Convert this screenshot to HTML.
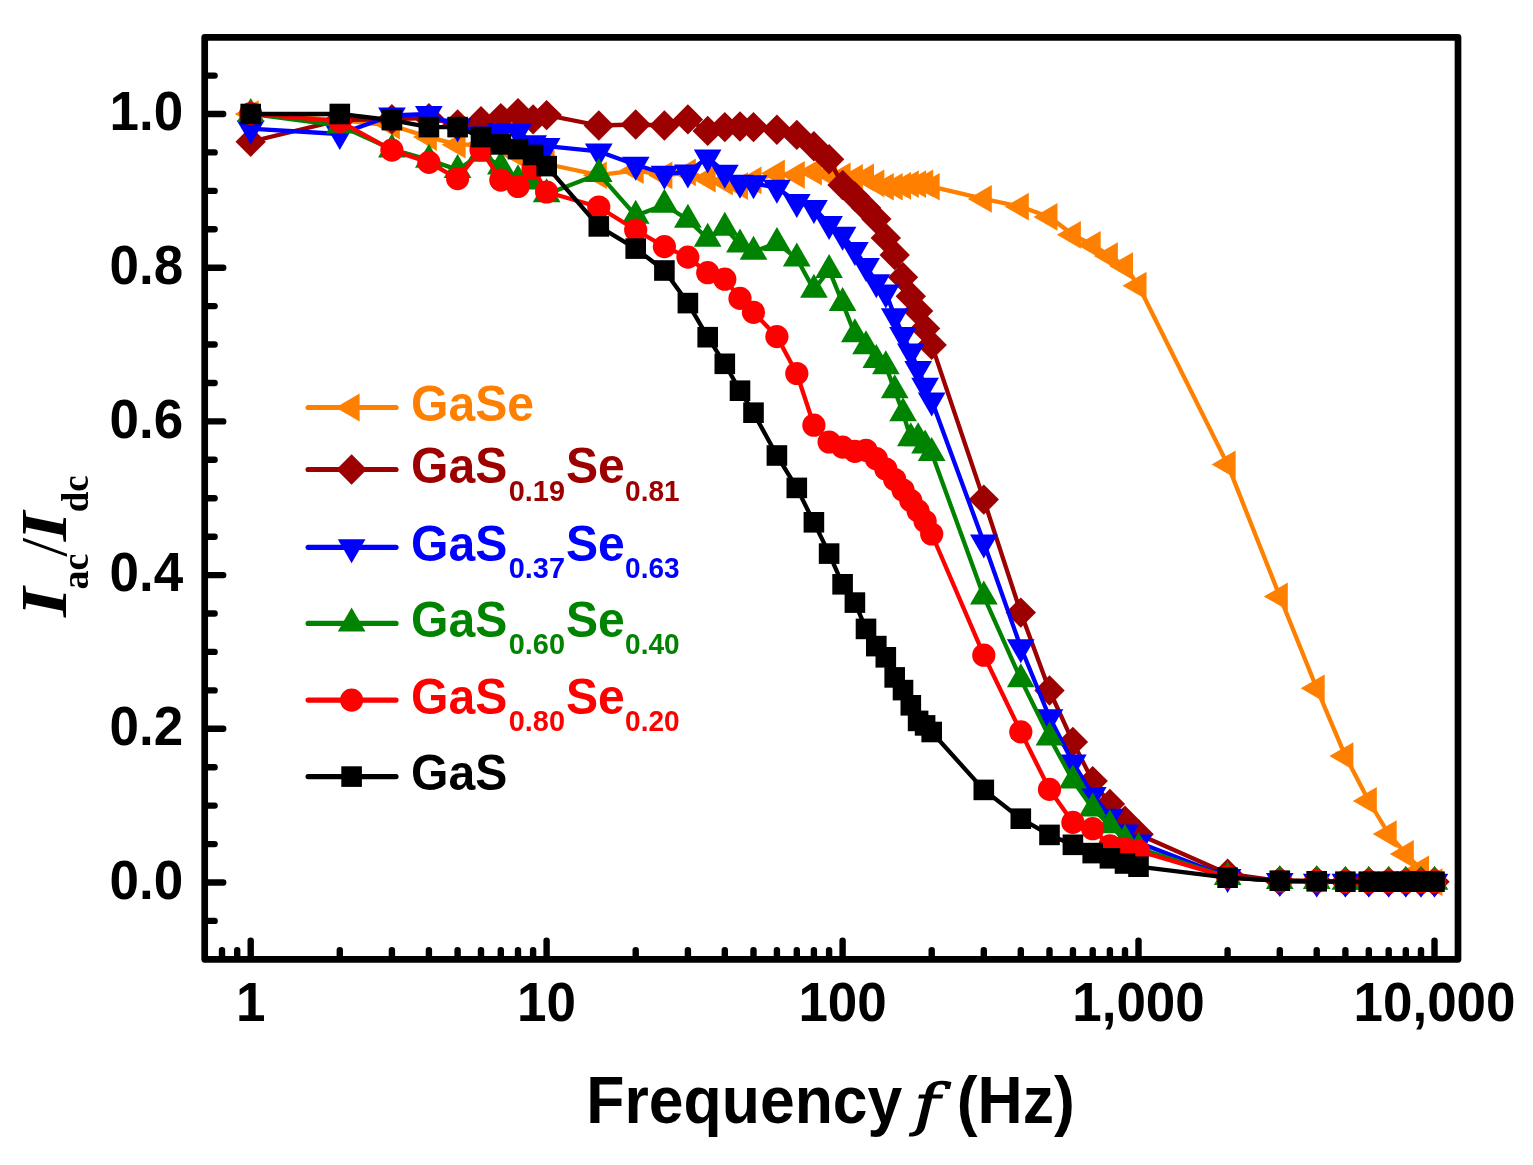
<!DOCTYPE html>
<html><head><meta charset="utf-8"><title>Frequency response</title>
<style>html,body{margin:0;padding:0;background:#fff}svg{display:block}text{font-family:"Liberation Sans",sans-serif;font-weight:bold}</style></head><body>
<svg width="1533" height="1165" viewBox="0 0 1533 1165">
<rect width="1533" height="1165" fill="#fff"/>
<g fill="#FF8000" stroke="none"><polyline points="250.7,114.0 339.8,120.1 391.9,125.5 428.9,137.1 457.6,144.7 481.0,144.7 500.8,145.1 518.0,154.7 533.1,160.1 546.6,164.0 598.8,175.2 635.7,170.3 664.4,175.5 687.9,172.4 707.7,178.8 724.8,181.6 740.0,186.0 753.5,180.5 776.9,173.3 796.8,174.9 813.9,171.8 829.1,173.9 842.6,176.3 854.9,177.8 866.0,177.4 876.3,183.3 885.8,186.7 894.7,186.7 903.0,185.9 910.8,184.2 918.1,184.2 925.1,183.3 931.7,186.7 983.8,198.9 1020.8,206.7 1049.5,217.0 1072.9,234.8 1092.7,244.8 1109.9,256.0 1125.0,266.0 1138.5,285.7 1227.6,464.4 1279.8,596.5 1316.7,688.3 1345.4,756.1 1368.8,801.0 1388.7,834.0 1405.8,854.0 1421.0,869.4 1434.5,882.1" fill="none" stroke="#FF8000" stroke-width="4.3" stroke-linejoin="round"/>
<polygon points="234.7,114.0 258.7,100.2 258.7,127.8"/>
<polygon points="323.8,120.1 347.8,106.3 347.8,134.0"/>
<polygon points="375.9,125.5 399.9,111.7 399.9,139.4"/>
<polygon points="412.9,137.1 436.9,123.2 436.9,150.9"/>
<polygon points="441.6,144.7 465.6,130.9 465.6,158.6"/>
<polygon points="465.0,144.7 489.0,130.9 489.0,158.6"/>
<polygon points="484.8,145.1 508.8,131.3 508.8,159.0"/>
<polygon points="502.0,154.7 526.0,140.9 526.0,168.6"/>
<polygon points="517.1,160.1 541.1,146.3 541.1,174.0"/>
<polygon points="530.6,164.0 554.6,150.1 554.6,177.8"/>
<polygon points="582.8,175.2 606.8,161.4 606.8,189.1"/>
<polygon points="619.7,170.3 643.7,156.4 643.7,184.1"/>
<polygon points="648.4,175.5 672.4,161.6 672.4,189.3"/>
<polygon points="671.9,172.4 695.9,158.6 695.9,186.3"/>
<polygon points="691.7,178.8 715.7,164.9 715.7,192.6"/>
<polygon points="708.8,181.6 732.8,167.8 732.8,195.5"/>
<polygon points="724.0,186.0 748.0,172.2 748.0,199.9"/>
<polygon points="737.5,180.5 761.5,166.6 761.5,194.3"/>
<polygon points="760.9,173.3 784.9,159.4 784.9,187.1"/>
<polygon points="780.8,174.9 804.8,161.1 804.8,188.8"/>
<polygon points="797.9,171.8 821.9,157.9 821.9,185.6"/>
<polygon points="813.1,173.9 837.1,160.1 837.1,187.8"/>
<polygon points="826.6,176.3 850.6,162.5 850.6,190.2"/>
<polygon points="838.9,177.8 862.9,163.9 862.9,191.6"/>
<polygon points="850.0,177.4 874.0,163.6 874.0,191.3"/>
<polygon points="860.3,183.3 884.3,169.5 884.3,197.2"/>
<polygon points="869.8,186.7 893.8,172.9 893.8,200.6"/>
<polygon points="878.7,186.7 902.7,172.9 902.7,200.6"/>
<polygon points="887.0,185.9 911.0,172.0 911.0,199.7"/>
<polygon points="894.8,184.2 918.8,170.3 918.8,198.0"/>
<polygon points="902.1,184.2 926.1,170.3 926.1,198.0"/>
<polygon points="909.1,183.3 933.1,169.5 933.1,197.2"/>
<polygon points="915.7,186.7 939.7,172.9 939.7,200.6"/>
<polygon points="967.8,198.9 991.8,185.1 991.8,212.8"/>
<polygon points="1004.8,206.7 1028.8,192.8 1028.8,220.5"/>
<polygon points="1033.5,217.0 1057.5,203.1 1057.5,230.8"/>
<polygon points="1056.9,234.8 1080.9,221.0 1080.9,248.7"/>
<polygon points="1076.7,244.8 1100.7,230.9 1100.7,258.6"/>
<polygon points="1093.9,256.0 1117.9,242.2 1117.9,269.9"/>
<polygon points="1109.0,266.0 1133.0,252.2 1133.0,279.9"/>
<polygon points="1122.5,285.7 1146.5,271.8 1146.5,299.5"/>
<polygon points="1211.6,464.4 1235.6,450.5 1235.6,478.2"/>
<polygon points="1263.8,596.5 1287.8,582.6 1287.8,610.3"/>
<polygon points="1300.7,688.3 1324.7,674.5 1324.7,702.2"/>
<polygon points="1329.4,756.1 1353.4,742.2 1353.4,769.9"/>
<polygon points="1352.8,801.0 1376.8,787.1 1376.8,814.8"/>
<polygon points="1372.7,834.0 1396.7,820.2 1396.7,847.9"/>
<polygon points="1389.8,854.0 1413.8,840.1 1413.8,867.8"/>
<polygon points="1405.0,869.4 1429.0,855.6 1429.0,883.3"/>
<polygon points="1418.5,882.1 1442.5,868.3 1442.5,896.0"/>
</g>
<g fill="#9C0000" stroke="none"><polyline points="250.7,141.7 339.8,120.1 391.9,119.2 428.9,118.1 457.6,124.4 481.0,121.2 500.8,118.1 518.0,113.2 533.1,119.4 546.6,115.1 598.8,125.5 635.7,124.5 664.4,125.5 687.9,119.4 707.7,130.9 724.8,127.1 740.0,126.5 753.5,127.1 776.9,129.7 796.8,134.9 813.9,146.3 829.1,159.3 842.6,185.0 854.9,196.5 866.0,207.8 876.3,219.0 885.8,237.9 894.7,255.0 903.0,277.3 910.8,296.2 918.1,311.0 925.1,328.4 931.7,344.9 983.8,499.6 1020.8,612.6 1049.5,690.5 1072.9,741.9 1092.7,781.1 1109.9,804.0 1125.0,820.8 1138.5,834.3 1227.6,873.7 1279.8,881.0 1316.7,881.0 1345.4,881.7 1368.8,881.7 1388.7,881.7 1405.8,881.7 1421.0,881.7 1434.5,881.7" fill="none" stroke="#9C0000" stroke-width="4.3" stroke-linejoin="round"/>
<polygon points="250.7,126.5 265.9,141.7 250.7,156.9 235.5,141.7"/>
<polygon points="339.8,104.9 355.0,120.1 339.8,135.3 324.6,120.1"/>
<polygon points="391.9,104.0 407.1,119.2 391.9,134.4 376.7,119.2"/>
<polygon points="428.9,102.9 444.1,118.1 428.9,133.3 413.7,118.1"/>
<polygon points="457.6,109.2 472.8,124.4 457.6,139.6 442.4,124.4"/>
<polygon points="481.0,106.0 496.2,121.2 481.0,136.4 465.8,121.2"/>
<polygon points="500.8,102.9 516.0,118.1 500.8,133.3 485.6,118.1"/>
<polygon points="518.0,98.0 533.2,113.2 518.0,128.4 502.8,113.2"/>
<polygon points="533.1,104.2 548.3,119.4 533.1,134.6 517.9,119.4"/>
<polygon points="546.6,99.9 561.9,115.1 546.6,130.3 531.4,115.1"/>
<polygon points="598.8,110.3 614.0,125.5 598.8,140.7 583.6,125.5"/>
<polygon points="635.7,109.3 650.9,124.5 635.7,139.7 620.5,124.5"/>
<polygon points="664.4,110.3 679.6,125.5 664.4,140.7 649.2,125.5"/>
<polygon points="687.9,104.2 703.1,119.4 687.9,134.6 672.7,119.4"/>
<polygon points="707.7,115.7 722.9,130.9 707.7,146.1 692.5,130.9"/>
<polygon points="724.8,111.9 740.0,127.1 724.8,142.3 709.6,127.1"/>
<polygon points="740.0,111.3 755.2,126.5 740.0,141.7 724.8,126.5"/>
<polygon points="753.5,111.9 768.7,127.1 753.5,142.3 738.3,127.1"/>
<polygon points="776.9,114.5 792.1,129.7 776.9,144.9 761.7,129.7"/>
<polygon points="796.8,119.7 812.0,134.9 796.8,150.1 781.6,134.9"/>
<polygon points="813.9,131.1 829.1,146.3 813.9,161.5 798.7,146.3"/>
<polygon points="829.1,144.1 844.3,159.3 829.1,174.5 813.9,159.3"/>
<polygon points="842.6,169.8 857.8,185.0 842.6,200.2 827.4,185.0"/>
<polygon points="854.9,181.3 870.1,196.5 854.9,211.7 839.7,196.5"/>
<polygon points="866.0,192.6 881.2,207.8 866.0,223.0 850.8,207.8"/>
<polygon points="876.3,203.8 891.5,219.0 876.3,234.2 861.1,219.0"/>
<polygon points="885.8,222.7 901.0,237.9 885.8,253.1 870.6,237.9"/>
<polygon points="894.7,239.8 909.9,255.0 894.7,270.2 879.5,255.0"/>
<polygon points="903.0,262.1 918.2,277.3 903.0,292.5 887.8,277.3"/>
<polygon points="910.8,281.0 926.0,296.2 910.8,311.4 895.6,296.2"/>
<polygon points="918.1,295.8 933.3,311.0 918.1,326.2 902.9,311.0"/>
<polygon points="925.1,313.2 940.3,328.4 925.1,343.6 909.9,328.4"/>
<polygon points="931.7,329.7 946.9,344.9 931.7,360.1 916.5,344.9"/>
<polygon points="983.8,484.4 999.0,499.6 983.8,514.8 968.6,499.6"/>
<polygon points="1020.8,597.4 1036.0,612.6 1020.8,627.8 1005.6,612.6"/>
<polygon points="1049.5,675.3 1064.7,690.5 1049.5,705.7 1034.3,690.5"/>
<polygon points="1072.9,726.7 1088.1,741.9 1072.9,757.1 1057.7,741.9"/>
<polygon points="1092.7,765.9 1107.9,781.1 1092.7,796.3 1077.5,781.1"/>
<polygon points="1109.9,788.8 1125.1,804.0 1109.9,819.2 1094.7,804.0"/>
<polygon points="1125.0,805.6 1140.2,820.8 1125.0,836.0 1109.8,820.8"/>
<polygon points="1138.5,819.1 1153.8,834.3 1138.5,849.5 1123.3,834.3"/>
<polygon points="1227.6,858.5 1242.8,873.7 1227.6,888.9 1212.4,873.7"/>
<polygon points="1279.8,865.8 1295.0,881.0 1279.8,896.2 1264.6,881.0"/>
<polygon points="1316.7,865.8 1331.9,881.0 1316.7,896.2 1301.5,881.0"/>
<polygon points="1345.4,866.5 1360.6,881.7 1345.4,896.9 1330.2,881.7"/>
<polygon points="1368.8,866.5 1384.0,881.7 1368.8,896.9 1353.6,881.7"/>
<polygon points="1388.7,866.5 1403.9,881.7 1388.7,896.9 1373.5,881.7"/>
<polygon points="1405.8,866.5 1421.0,881.7 1405.8,896.9 1390.6,881.7"/>
<polygon points="1421.0,866.5 1436.2,881.7 1421.0,896.9 1405.8,881.7"/>
<polygon points="1434.5,866.5 1449.7,881.7 1434.5,896.9 1419.3,881.7"/>
</g>
<g fill="#0000FF" stroke="none"><polyline points="250.7,128.6 339.8,134.0 391.9,115.5 428.9,114.0 457.6,126.5 481.0,134.4 500.8,131.3 518.0,131.7 533.1,143.2 546.6,146.1 598.8,151.4 635.7,164.7 664.4,173.7 687.9,172.4 707.7,157.4 724.8,172.7 740.0,182.7 753.5,183.2 776.9,187.8 796.8,202.0 813.9,207.9 829.1,223.9 842.6,234.8 854.9,250.0 866.0,266.0 876.3,282.3 885.8,292.6 894.7,316.3 903.0,335.1 910.8,351.5 918.1,369.1 925.1,385.8 931.7,400.4 983.8,542.5 1020.8,647.3 1049.5,717.3 1072.9,762.5 1092.7,794.9 1109.9,816.8 1125.0,832.5 1138.5,842.5 1227.6,877.1 1279.8,881.0 1316.7,881.7 1345.4,881.7 1368.8,881.7 1388.7,881.7 1405.8,881.7 1421.0,881.7 1434.5,881.7" fill="none" stroke="#0000FF" stroke-width="4.3" stroke-linejoin="round"/>
<polygon points="250.7,144.6 236.8,120.6 264.6,120.6"/>
<polygon points="339.8,150.0 325.9,126.0 353.6,126.0"/>
<polygon points="391.9,131.5 378.1,107.5 405.8,107.5"/>
<polygon points="428.9,130.0 415.0,106.0 442.7,106.0"/>
<polygon points="457.6,142.5 443.7,118.5 471.4,118.5"/>
<polygon points="481.0,150.4 467.1,126.4 494.8,126.4"/>
<polygon points="500.8,147.3 487.0,123.3 514.7,123.3"/>
<polygon points="518.0,147.7 504.1,123.7 531.8,123.7"/>
<polygon points="533.1,159.2 519.3,135.2 547.0,135.2"/>
<polygon points="546.6,162.1 532.8,138.1 560.5,138.1"/>
<polygon points="598.8,167.4 584.9,143.4 612.6,143.4"/>
<polygon points="635.7,180.7 621.9,156.7 649.6,156.7"/>
<polygon points="664.4,189.7 650.6,165.7 678.3,165.7"/>
<polygon points="687.9,188.4 674.0,164.4 701.7,164.4"/>
<polygon points="707.7,173.4 693.8,149.4 721.5,149.4"/>
<polygon points="724.8,188.7 711.0,164.7 738.7,164.7"/>
<polygon points="740.0,198.7 726.1,174.7 753.8,174.7"/>
<polygon points="753.5,199.2 739.7,175.2 767.4,175.2"/>
<polygon points="776.9,203.8 763.1,179.8 790.8,179.8"/>
<polygon points="796.8,218.0 782.9,194.0 810.6,194.0"/>
<polygon points="813.9,223.9 800.1,199.9 827.8,199.9"/>
<polygon points="829.1,239.9 815.2,215.9 842.9,215.9"/>
<polygon points="842.6,250.8 828.7,226.8 856.4,226.8"/>
<polygon points="854.9,266.0 841.0,242.0 868.7,242.0"/>
<polygon points="866.0,282.0 852.2,258.0 879.9,258.0"/>
<polygon points="876.3,298.3 862.5,274.3 890.2,274.3"/>
<polygon points="885.8,308.6 872.0,284.6 899.7,284.6"/>
<polygon points="894.7,332.3 880.9,308.3 908.6,308.3"/>
<polygon points="903.0,351.1 889.2,327.1 916.9,327.1"/>
<polygon points="910.8,367.5 897.0,343.5 924.7,343.5"/>
<polygon points="918.1,385.1 904.3,361.1 932.0,361.1"/>
<polygon points="925.1,401.8 911.2,377.8 938.9,377.8"/>
<polygon points="931.7,416.4 917.8,392.4 945.5,392.4"/>
<polygon points="983.8,558.5 970.0,534.5 997.7,534.5"/>
<polygon points="1020.8,663.3 1006.9,639.3 1034.6,639.3"/>
<polygon points="1049.5,733.3 1035.6,709.3 1063.3,709.3"/>
<polygon points="1072.9,778.5 1059.0,754.5 1086.7,754.5"/>
<polygon points="1092.7,810.9 1078.9,786.9 1106.6,786.9"/>
<polygon points="1109.9,832.8 1096.0,808.8 1123.7,808.8"/>
<polygon points="1125.0,848.5 1111.2,824.5 1138.9,824.5"/>
<polygon points="1138.5,858.5 1124.7,834.5 1152.4,834.5"/>
<polygon points="1227.6,893.1 1213.8,869.1 1241.5,869.1"/>
<polygon points="1279.8,897.0 1265.9,873.0 1293.6,873.0"/>
<polygon points="1316.7,897.7 1302.9,873.7 1330.6,873.7"/>
<polygon points="1345.4,897.7 1331.6,873.7 1359.3,873.7"/>
<polygon points="1368.8,897.7 1355.0,873.7 1382.7,873.7"/>
<polygon points="1388.7,897.7 1374.8,873.7 1402.5,873.7"/>
<polygon points="1405.8,897.7 1392.0,873.7 1419.7,873.7"/>
<polygon points="1421.0,897.7 1407.1,873.7 1434.8,873.7"/>
<polygon points="1434.5,897.7 1420.7,873.7 1448.3,873.7"/>
</g>
<g fill="#008300" stroke="none"><polyline points="250.7,114.0 339.8,125.5 391.9,149.4 428.9,159.7 457.6,169.9 481.0,153.7 500.8,166.6 518.0,180.3 533.1,181.6 546.6,194.3 598.8,173.9 635.7,215.7 664.4,204.8 687.9,219.8 707.7,238.7 724.8,227.7 740.0,244.6 753.5,251.8 776.9,242.9 796.8,258.5 813.9,289.8 829.1,270.0 842.6,303.1 854.9,334.2 866.0,346.3 876.3,359.9 885.8,366.2 894.7,390.2 903.0,413.2 910.8,438.3 918.1,438.3 925.1,445.5 931.7,452.9 983.8,596.4 1020.8,679.2 1049.5,737.4 1072.9,780.4 1092.7,808.6 1109.9,825.3 1125.0,839.9 1138.5,848.3 1227.6,877.1 1279.8,881.0 1316.7,881.0 1345.4,881.7 1368.8,881.7 1388.7,881.7 1405.8,881.7 1421.0,881.7 1434.5,881.7" fill="none" stroke="#008300" stroke-width="4.3" stroke-linejoin="round"/>
<polygon points="250.7,98.0 236.8,122.0 264.6,122.0"/>
<polygon points="339.8,109.5 325.9,133.5 353.6,133.5"/>
<polygon points="391.9,133.4 378.1,157.4 405.8,157.4"/>
<polygon points="428.9,143.7 415.0,167.7 442.7,167.7"/>
<polygon points="457.6,153.9 443.7,177.9 471.4,177.9"/>
<polygon points="481.0,137.7 467.1,161.7 494.8,161.7"/>
<polygon points="500.8,150.6 487.0,174.6 514.7,174.6"/>
<polygon points="518.0,164.3 504.1,188.3 531.8,188.3"/>
<polygon points="533.1,165.6 519.3,189.6 547.0,189.6"/>
<polygon points="546.6,178.3 532.8,202.3 560.5,202.3"/>
<polygon points="598.8,157.9 584.9,181.9 612.6,181.9"/>
<polygon points="635.7,199.7 621.9,223.7 649.6,223.7"/>
<polygon points="664.4,188.8 650.6,212.8 678.3,212.8"/>
<polygon points="687.9,203.8 674.0,227.8 701.7,227.8"/>
<polygon points="707.7,222.7 693.8,246.7 721.5,246.7"/>
<polygon points="724.8,211.7 711.0,235.7 738.7,235.7"/>
<polygon points="740.0,228.6 726.1,252.6 753.8,252.6"/>
<polygon points="753.5,235.8 739.7,259.8 767.4,259.8"/>
<polygon points="776.9,226.9 763.1,250.9 790.8,250.9"/>
<polygon points="796.8,242.5 782.9,266.5 810.6,266.5"/>
<polygon points="813.9,273.8 800.1,297.8 827.8,297.8"/>
<polygon points="829.1,254.0 815.2,278.0 842.9,278.0"/>
<polygon points="842.6,287.1 828.7,311.1 856.4,311.1"/>
<polygon points="854.9,318.2 841.0,342.2 868.7,342.2"/>
<polygon points="866.0,330.3 852.2,354.3 879.9,354.3"/>
<polygon points="876.3,343.9 862.5,367.9 890.2,367.9"/>
<polygon points="885.8,350.2 872.0,374.2 899.7,374.2"/>
<polygon points="894.7,374.2 880.9,398.2 908.6,398.2"/>
<polygon points="903.0,397.2 889.2,421.2 916.9,421.2"/>
<polygon points="910.8,422.3 897.0,446.3 924.7,446.3"/>
<polygon points="918.1,422.3 904.3,446.3 932.0,446.3"/>
<polygon points="925.1,429.5 911.2,453.5 938.9,453.5"/>
<polygon points="931.7,436.9 917.8,460.9 945.5,460.9"/>
<polygon points="983.8,580.4 970.0,604.4 997.7,604.4"/>
<polygon points="1020.8,663.2 1006.9,687.2 1034.6,687.2"/>
<polygon points="1049.5,721.4 1035.6,745.4 1063.3,745.4"/>
<polygon points="1072.9,764.4 1059.0,788.4 1086.7,788.4"/>
<polygon points="1092.7,792.6 1078.9,816.6 1106.6,816.6"/>
<polygon points="1109.9,809.3 1096.0,833.3 1123.7,833.3"/>
<polygon points="1125.0,823.9 1111.2,847.9 1138.9,847.9"/>
<polygon points="1138.5,832.3 1124.7,856.3 1152.4,856.3"/>
<polygon points="1227.6,861.1 1213.8,885.1 1241.5,885.1"/>
<polygon points="1279.8,865.0 1265.9,889.0 1293.6,889.0"/>
<polygon points="1316.7,865.0 1302.9,889.0 1330.6,889.0"/>
<polygon points="1345.4,865.7 1331.6,889.7 1359.3,889.7"/>
<polygon points="1368.8,865.7 1355.0,889.7 1382.7,889.7"/>
<polygon points="1388.7,865.7 1374.8,889.7 1402.5,889.7"/>
<polygon points="1405.8,865.7 1392.0,889.7 1419.7,889.7"/>
<polygon points="1421.0,865.7 1407.1,889.7 1434.8,889.7"/>
<polygon points="1434.5,865.7 1420.7,889.7 1448.3,889.7"/>
</g>
<g fill="#FF0000" stroke="none"><polyline points="250.7,113.5 339.8,121.3 391.9,150.1 428.9,162.4 457.6,178.6 481.0,149.7 500.8,180.1 518.0,186.5 533.1,168.3 546.6,192.0 598.8,207.0 635.7,230.0 664.4,246.6 687.9,257.1 707.7,272.7 724.8,279.2 740.0,298.4 753.5,312.3 776.9,336.6 796.8,373.5 813.9,425.2 829.1,442.0 842.6,447.1 854.9,451.4 866.0,450.3 876.3,458.7 885.8,469.0 894.7,479.5 903.0,490.0 910.8,500.6 918.1,510.9 925.1,521.3 931.7,534.0 983.8,655.2 1020.8,731.9 1049.5,789.4 1072.9,822.4 1092.7,828.7 1109.9,845.8 1125.0,848.9 1138.5,851.0 1227.6,877.1 1279.8,881.0 1316.7,881.0 1345.4,881.7 1368.8,881.7 1388.7,881.7 1405.8,881.7 1421.0,881.7 1434.5,881.7" fill="none" stroke="#FF0000" stroke-width="4.3" stroke-linejoin="round"/>
<circle cx="250.7" cy="113.5" r="11.6"/>
<circle cx="339.8" cy="121.3" r="11.6"/>
<circle cx="391.9" cy="150.1" r="11.6"/>
<circle cx="428.9" cy="162.4" r="11.6"/>
<circle cx="457.6" cy="178.6" r="11.6"/>
<circle cx="481.0" cy="149.7" r="11.6"/>
<circle cx="500.8" cy="180.1" r="11.6"/>
<circle cx="518.0" cy="186.5" r="11.6"/>
<circle cx="533.1" cy="168.3" r="11.6"/>
<circle cx="546.6" cy="192.0" r="11.6"/>
<circle cx="598.8" cy="207.0" r="11.6"/>
<circle cx="635.7" cy="230.0" r="11.6"/>
<circle cx="664.4" cy="246.6" r="11.6"/>
<circle cx="687.9" cy="257.1" r="11.6"/>
<circle cx="707.7" cy="272.7" r="11.6"/>
<circle cx="724.8" cy="279.2" r="11.6"/>
<circle cx="740.0" cy="298.4" r="11.6"/>
<circle cx="753.5" cy="312.3" r="11.6"/>
<circle cx="776.9" cy="336.6" r="11.6"/>
<circle cx="796.8" cy="373.5" r="11.6"/>
<circle cx="813.9" cy="425.2" r="11.6"/>
<circle cx="829.1" cy="442.0" r="11.6"/>
<circle cx="842.6" cy="447.1" r="11.6"/>
<circle cx="854.9" cy="451.4" r="11.6"/>
<circle cx="866.0" cy="450.3" r="11.6"/>
<circle cx="876.3" cy="458.7" r="11.6"/>
<circle cx="885.8" cy="469.0" r="11.6"/>
<circle cx="894.7" cy="479.5" r="11.6"/>
<circle cx="903.0" cy="490.0" r="11.6"/>
<circle cx="910.8" cy="500.6" r="11.6"/>
<circle cx="918.1" cy="510.9" r="11.6"/>
<circle cx="925.1" cy="521.3" r="11.6"/>
<circle cx="931.7" cy="534.0" r="11.6"/>
<circle cx="983.8" cy="655.2" r="11.6"/>
<circle cx="1020.8" cy="731.9" r="11.6"/>
<circle cx="1049.5" cy="789.4" r="11.6"/>
<circle cx="1072.9" cy="822.4" r="11.6"/>
<circle cx="1092.7" cy="828.7" r="11.6"/>
<circle cx="1109.9" cy="845.8" r="11.6"/>
<circle cx="1125.0" cy="848.9" r="11.6"/>
<circle cx="1138.5" cy="851.0" r="11.6"/>
<circle cx="1227.6" cy="877.1" r="11.6"/>
<circle cx="1279.8" cy="881.0" r="11.6"/>
<circle cx="1316.7" cy="881.0" r="11.6"/>
<circle cx="1345.4" cy="881.7" r="11.6"/>
<circle cx="1368.8" cy="881.7" r="11.6"/>
<circle cx="1388.7" cy="881.7" r="11.6"/>
<circle cx="1405.8" cy="881.7" r="11.6"/>
<circle cx="1421.0" cy="881.7" r="11.6"/>
<circle cx="1434.5" cy="881.7" r="11.6"/>
</g>
<g fill="#000000" stroke="none"><polyline points="250.7,114.0 339.8,114.0 391.9,120.1 428.9,127.1 457.6,127.1 481.0,137.1 500.8,144.4 518.0,149.1 533.1,155.0 546.6,166.1 598.8,226.4 635.7,248.6 664.4,270.5 687.9,303.1 707.7,337.2 724.8,363.8 740.0,390.7 753.5,412.7 776.9,455.5 796.8,487.9 813.9,522.3 829.1,553.6 842.6,584.3 854.9,602.6 866.0,628.9 876.3,646.1 885.8,657.3 894.7,677.4 903.0,690.1 910.8,705.3 918.1,720.9 925.1,725.4 931.7,732.0 983.8,789.9 1020.8,818.7 1049.5,834.9 1072.9,844.8 1092.7,853.1 1109.9,858.3 1125.0,863.5 1138.5,866.7 1227.6,877.7 1279.8,880.7 1316.7,881.3 1345.4,881.7 1368.8,881.7 1388.7,881.7 1405.8,881.7 1421.0,881.7 1434.5,881.7" fill="none" stroke="#000000" stroke-width="4.3" stroke-linejoin="round"/>
<rect x="240.4" y="103.7" width="20.6" height="20.6"/>
<rect x="329.5" y="103.7" width="20.6" height="20.6"/>
<rect x="381.6" y="109.8" width="20.6" height="20.6"/>
<rect x="418.6" y="116.8" width="20.6" height="20.6"/>
<rect x="447.3" y="116.8" width="20.6" height="20.6"/>
<rect x="470.7" y="126.8" width="20.6" height="20.6"/>
<rect x="490.5" y="134.1" width="20.6" height="20.6"/>
<rect x="507.7" y="138.8" width="20.6" height="20.6"/>
<rect x="522.8" y="144.7" width="20.6" height="20.6"/>
<rect x="536.4" y="155.8" width="20.6" height="20.6"/>
<rect x="588.5" y="216.1" width="20.6" height="20.6"/>
<rect x="625.4" y="238.3" width="20.6" height="20.6"/>
<rect x="654.1" y="260.2" width="20.6" height="20.6"/>
<rect x="677.6" y="292.8" width="20.6" height="20.6"/>
<rect x="697.4" y="326.9" width="20.6" height="20.6"/>
<rect x="714.5" y="353.5" width="20.6" height="20.6"/>
<rect x="729.7" y="380.4" width="20.6" height="20.6"/>
<rect x="743.2" y="402.4" width="20.6" height="20.6"/>
<rect x="766.6" y="445.2" width="20.6" height="20.6"/>
<rect x="786.5" y="477.6" width="20.6" height="20.6"/>
<rect x="803.6" y="512.0" width="20.6" height="20.6"/>
<rect x="818.8" y="543.3" width="20.6" height="20.6"/>
<rect x="832.3" y="574.0" width="20.6" height="20.6"/>
<rect x="844.6" y="592.3" width="20.6" height="20.6"/>
<rect x="855.7" y="618.6" width="20.6" height="20.6"/>
<rect x="866.0" y="635.8" width="20.6" height="20.6"/>
<rect x="875.5" y="647.0" width="20.6" height="20.6"/>
<rect x="884.4" y="667.1" width="20.6" height="20.6"/>
<rect x="892.7" y="679.8" width="20.6" height="20.6"/>
<rect x="900.5" y="695.0" width="20.6" height="20.6"/>
<rect x="907.8" y="710.6" width="20.6" height="20.6"/>
<rect x="914.8" y="715.1" width="20.6" height="20.6"/>
<rect x="921.4" y="721.7" width="20.6" height="20.6"/>
<rect x="973.5" y="779.6" width="20.6" height="20.6"/>
<rect x="1010.5" y="808.4" width="20.6" height="20.6"/>
<rect x="1039.2" y="824.6" width="20.6" height="20.6"/>
<rect x="1062.6" y="834.5" width="20.6" height="20.6"/>
<rect x="1082.4" y="842.8" width="20.6" height="20.6"/>
<rect x="1099.6" y="848.0" width="20.6" height="20.6"/>
<rect x="1114.7" y="853.2" width="20.6" height="20.6"/>
<rect x="1128.2" y="856.4" width="20.6" height="20.6"/>
<rect x="1217.3" y="867.4" width="20.6" height="20.6"/>
<rect x="1269.5" y="870.4" width="20.6" height="20.6"/>
<rect x="1306.4" y="871.0" width="20.6" height="20.6"/>
<rect x="1335.1" y="871.4" width="20.6" height="20.6"/>
<rect x="1358.5" y="871.4" width="20.6" height="20.6"/>
<rect x="1378.4" y="871.4" width="20.6" height="20.6"/>
<rect x="1395.5" y="871.4" width="20.6" height="20.6"/>
<rect x="1410.7" y="871.4" width="20.6" height="20.6"/>
<rect x="1424.2" y="871.4" width="20.6" height="20.6"/>
</g>
<g stroke="#000" stroke-width="6.7" stroke-linecap="round" stroke-linejoin="round" fill="none">
<rect x="204.7" y="37.3" width="1253.3" height="922.0"/>
<line x1="206.2" y1="920.9" x2="214.6" y2="920.9" stroke-width="6.4"/>
<line x1="206.2" y1="882.5" x2="223.2" y2="882.5" stroke-width="6.4"/>
<line x1="206.2" y1="844.1" x2="214.6" y2="844.1" stroke-width="6.4"/>
<line x1="206.2" y1="805.6" x2="214.6" y2="805.6" stroke-width="6.4"/>
<line x1="206.2" y1="767.2" x2="214.6" y2="767.2" stroke-width="6.4"/>
<line x1="206.2" y1="728.8" x2="223.2" y2="728.8" stroke-width="6.4"/>
<line x1="206.2" y1="690.4" x2="214.6" y2="690.4" stroke-width="6.4"/>
<line x1="206.2" y1="651.9" x2="214.6" y2="651.9" stroke-width="6.4"/>
<line x1="206.2" y1="613.5" x2="214.6" y2="613.5" stroke-width="6.4"/>
<line x1="206.2" y1="575.1" x2="223.2" y2="575.1" stroke-width="6.4"/>
<line x1="206.2" y1="536.7" x2="214.6" y2="536.7" stroke-width="6.4"/>
<line x1="206.2" y1="498.2" x2="214.6" y2="498.2" stroke-width="6.4"/>
<line x1="206.2" y1="459.8" x2="214.6" y2="459.8" stroke-width="6.4"/>
<line x1="206.2" y1="421.4" x2="223.2" y2="421.4" stroke-width="6.4"/>
<line x1="206.2" y1="383.0" x2="214.6" y2="383.0" stroke-width="6.4"/>
<line x1="206.2" y1="344.5" x2="214.6" y2="344.5" stroke-width="6.4"/>
<line x1="206.2" y1="306.1" x2="214.6" y2="306.1" stroke-width="6.4"/>
<line x1="206.2" y1="267.7" x2="223.2" y2="267.7" stroke-width="6.4"/>
<line x1="206.2" y1="229.3" x2="214.6" y2="229.3" stroke-width="6.4"/>
<line x1="206.2" y1="190.9" x2="214.6" y2="190.9" stroke-width="6.4"/>
<line x1="206.2" y1="152.4" x2="214.6" y2="152.4" stroke-width="6.4"/>
<line x1="206.2" y1="114.0" x2="223.2" y2="114.0" stroke-width="6.4"/>
<line x1="206.2" y1="75.6" x2="214.6" y2="75.6" stroke-width="6.4"/>
<line x1="222.0" y1="957.8" x2="222.0" y2="950.0999999999999" stroke-width="6.4"/>
<line x1="237.2" y1="957.8" x2="237.2" y2="950.0999999999999" stroke-width="6.4"/>
<line x1="250.7" y1="957.8" x2="250.7" y2="940.5999999999999" stroke-width="6.4"/>
<line x1="339.8" y1="957.8" x2="339.8" y2="950.0999999999999" stroke-width="6.4"/>
<line x1="391.9" y1="957.8" x2="391.9" y2="950.0999999999999" stroke-width="6.4"/>
<line x1="428.9" y1="957.8" x2="428.9" y2="950.0999999999999" stroke-width="6.4"/>
<line x1="457.6" y1="957.8" x2="457.6" y2="950.0999999999999" stroke-width="6.4"/>
<line x1="481.0" y1="957.8" x2="481.0" y2="950.0999999999999" stroke-width="6.4"/>
<line x1="500.8" y1="957.8" x2="500.8" y2="950.0999999999999" stroke-width="6.4"/>
<line x1="518.0" y1="957.8" x2="518.0" y2="950.0999999999999" stroke-width="6.4"/>
<line x1="533.1" y1="957.8" x2="533.1" y2="950.0999999999999" stroke-width="6.4"/>
<line x1="546.6" y1="957.8" x2="546.6" y2="940.5999999999999" stroke-width="6.4"/>
<line x1="635.7" y1="957.8" x2="635.7" y2="950.0999999999999" stroke-width="6.4"/>
<line x1="687.9" y1="957.8" x2="687.9" y2="950.0999999999999" stroke-width="6.4"/>
<line x1="724.8" y1="957.8" x2="724.8" y2="950.0999999999999" stroke-width="6.4"/>
<line x1="753.5" y1="957.8" x2="753.5" y2="950.0999999999999" stroke-width="6.4"/>
<line x1="776.9" y1="957.8" x2="776.9" y2="950.0999999999999" stroke-width="6.4"/>
<line x1="796.8" y1="957.8" x2="796.8" y2="950.0999999999999" stroke-width="6.4"/>
<line x1="813.9" y1="957.8" x2="813.9" y2="950.0999999999999" stroke-width="6.4"/>
<line x1="829.1" y1="957.8" x2="829.1" y2="950.0999999999999" stroke-width="6.4"/>
<line x1="842.6" y1="957.8" x2="842.6" y2="940.5999999999999" stroke-width="6.4"/>
<line x1="931.7" y1="957.8" x2="931.7" y2="950.0999999999999" stroke-width="6.4"/>
<line x1="983.8" y1="957.8" x2="983.8" y2="950.0999999999999" stroke-width="6.4"/>
<line x1="1020.8" y1="957.8" x2="1020.8" y2="950.0999999999999" stroke-width="6.4"/>
<line x1="1049.5" y1="957.8" x2="1049.5" y2="950.0999999999999" stroke-width="6.4"/>
<line x1="1072.9" y1="957.8" x2="1072.9" y2="950.0999999999999" stroke-width="6.4"/>
<line x1="1092.7" y1="957.8" x2="1092.7" y2="950.0999999999999" stroke-width="6.4"/>
<line x1="1109.9" y1="957.8" x2="1109.9" y2="950.0999999999999" stroke-width="6.4"/>
<line x1="1125.0" y1="957.8" x2="1125.0" y2="950.0999999999999" stroke-width="6.4"/>
<line x1="1138.5" y1="957.8" x2="1138.5" y2="940.5999999999999" stroke-width="6.4"/>
<line x1="1227.6" y1="957.8" x2="1227.6" y2="950.0999999999999" stroke-width="6.4"/>
<line x1="1279.8" y1="957.8" x2="1279.8" y2="950.0999999999999" stroke-width="6.4"/>
<line x1="1316.7" y1="957.8" x2="1316.7" y2="950.0999999999999" stroke-width="6.4"/>
<line x1="1345.4" y1="957.8" x2="1345.4" y2="950.0999999999999" stroke-width="6.4"/>
<line x1="1368.8" y1="957.8" x2="1368.8" y2="950.0999999999999" stroke-width="6.4"/>
<line x1="1388.7" y1="957.8" x2="1388.7" y2="950.0999999999999" stroke-width="6.4"/>
<line x1="1405.8" y1="957.8" x2="1405.8" y2="950.0999999999999" stroke-width="6.4"/>
<line x1="1421.0" y1="957.8" x2="1421.0" y2="950.0999999999999" stroke-width="6.4"/>
<line x1="1434.5" y1="957.8" x2="1434.5" y2="940.5999999999999" stroke-width="6.4"/>
</g>
<text transform="translate(183.3,898.7) scale(1,1.055)" font-size="53.0" text-anchor="end">0.0</text>
<text transform="translate(183.3,745.0) scale(1,1.055)" font-size="53.0" text-anchor="end">0.2</text>
<text transform="translate(183.3,591.3) scale(1,1.055)" font-size="53.0" text-anchor="end">0.4</text>
<text transform="translate(183.3,437.6) scale(1,1.055)" font-size="53.0" text-anchor="end">0.6</text>
<text transform="translate(183.3,283.9) scale(1,1.055)" font-size="53.0" text-anchor="end">0.8</text>
<text transform="translate(183.3,130.2) scale(1,1.055)" font-size="53.0" text-anchor="end">1.0</text>
<text transform="translate(250.7,1020.9) scale(1,1.055)" font-size="53.0" text-anchor="middle">1</text>
<text transform="translate(546.6,1020.9) scale(1,1.055)" font-size="53.0" text-anchor="middle">10</text>
<text transform="translate(842.6,1020.9) scale(1,1.055)" font-size="53.0" text-anchor="middle">100</text>
<text transform="translate(1138.5,1020.9) scale(1,1.055)" font-size="53.0" text-anchor="middle">1,000</text>
<text transform="translate(1434.5,1020.9) scale(1,1.055)" font-size="53.0" text-anchor="middle">10,000</text>
<text transform="translate(586.3,1123) scale(1,1.06)" font-size="62.5">Frequency</text>
<text transform="translate(914,1124.0) scale(1.25,1)" font-style="italic" font-weight="normal" font-size="56.5" stroke="#000" stroke-width="1.2" style="font-family:'DejaVu Serif',serif;font-weight:normal">f</text>
<text transform="translate(956.8,1123) scale(1,1.06)" font-size="62.5">(Hz)</text>
<text transform="translate(65.7,617) rotate(-90) scale(1.15,1)" font-size="66" font-style="italic" style="font-family:'Liberation Serif',serif">I</text>
<text transform="translate(88.2,589.4) rotate(-90) scale(1.0,1)" font-size="38" font-style="normal" style="font-family:'Liberation Serif',serif">ac</text>
<text transform="translate(65.7,554.1) rotate(-90) scale(0.69,1)" font-size="66" font-style="italic" style="font-family:'Liberation Serif',serif">/</text>
<text transform="translate(65.7,541.3) rotate(-90) scale(1.15,1)" font-size="66" font-style="italic" style="font-family:'Liberation Serif',serif">I</text>
<text transform="translate(88.2,512.3) rotate(-90) scale(1.0,1)" font-size="37" font-style="normal" style="font-family:'Liberation Serif',serif">dc</text>
<g fill="#FF8000"><line x1="308.1" y1="407.5" x2="396" y2="407.5" stroke="#FF8000" stroke-width="5.2" stroke-linecap="round"/><polygon points="335.6,407.5 359.6,393.6 359.6,421.4"/>
<text transform="translate(411,420.7) scale(1,1.05)" font-size="48.1">GaSe</text>
</g>
<g fill="#9C0000"><line x1="308.1" y1="469.5" x2="396" y2="469.5" stroke="#9C0000" stroke-width="5.2" stroke-linecap="round"/><polygon points="351.6,454.3 366.8,469.5 351.6,484.7 336.4,469.5"/>
<text transform="translate(411,482.9) scale(1,1.05)" font-size="48.1">GaS<tspan font-size="28.9" dx="1.5" dy="16.8">0.19</tspan><tspan dy="-16.8" dx="1">Se</tspan><tspan font-size="28.0" dy="16.8" dx="0.3">0.81</tspan></text>
</g>
<g fill="#0000FF"><line x1="308.1" y1="547.3" x2="396" y2="547.3" stroke="#0000FF" stroke-width="5.2" stroke-linecap="round"/><polygon points="351.6,563.3 337.8,539.3 365.5,539.3"/>
<text transform="translate(411,560.7) scale(1,1.05)" font-size="48.1">GaS<tspan font-size="28.9" dx="1.5" dy="16.8">0.37</tspan><tspan dy="-16.8" dx="1">Se</tspan><tspan font-size="28.0" dy="16.8" dx="0.3">0.63</tspan></text>
</g>
<g fill="#008300"><line x1="308.1" y1="623.4" x2="396" y2="623.4" stroke="#008300" stroke-width="5.2" stroke-linecap="round"/><polygon points="351.6,607.4 337.8,631.4 365.5,631.4"/>
<text transform="translate(411,636.8) scale(1,1.05)" font-size="48.1">GaS<tspan font-size="28.9" dx="1.5" dy="16.8">0.60</tspan><tspan dy="-16.8" dx="1">Se</tspan><tspan font-size="28.0" dy="16.8" dx="0.3">0.40</tspan></text>
</g>
<g fill="#FF0000"><line x1="308.1" y1="700.1" x2="396" y2="700.1" stroke="#FF0000" stroke-width="5.2" stroke-linecap="round"/><circle cx="351.6" cy="700.1" r="11.6"/>
<text transform="translate(411,713.5) scale(1,1.05)" font-size="48.1">GaS<tspan font-size="28.9" dx="1.5" dy="16.8">0.80</tspan><tspan dy="-16.8" dx="1">Se</tspan><tspan font-size="28.0" dy="16.8" dx="0.3">0.20</tspan></text>
</g>
<g fill="#000000"><line x1="308.1" y1="776.6" x2="396" y2="776.6" stroke="#000000" stroke-width="5.2" stroke-linecap="round"/><rect x="341.3" y="766.3" width="20.6" height="20.6"/>
<text transform="translate(411,789.8) scale(1,1.05)" font-size="48.1">GaS</text>
</g>
</svg></body></html>
